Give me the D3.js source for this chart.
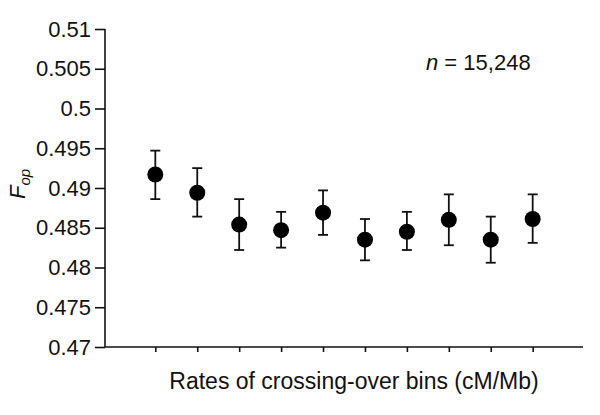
<!DOCTYPE html>
<html>
<head>
<meta charset="utf-8">
<script src="https://cdn.jsdelivr.net/npm/d3@7"></script>
<style>
  body { margin: 0; background: #fff; }
  svg { display: block; font-family: "Liberation Sans", Arial, Helvetica, sans-serif; }
</style>
</head>
<body>
<svg id="chart" width="600" height="415"></svg>
<script>
// bins along crossing-over rate (unlabelled ticks)
const bins = [0, 1, 2, 3, 4, 5, 6, 7, 8, 9];
const fop = [0.4917, 0.4894, 0.4854, 0.4847, 0.4869, 0.4835, 0.4845, 0.4860, 0.4835, 0.4861];
const errLow = [0.4886, 0.4864, 0.4822, 0.4825, 0.4841, 0.4809, 0.4822, 0.4828, 0.4806, 0.4831];
const errHigh = [0.4947, 0.4925, 0.4886, 0.4870, 0.4897, 0.4861, 0.4870, 0.4892, 0.4864, 0.4892];
const yTicks = [0.47, 0.475, 0.48, 0.485, 0.49, 0.495, 0.5, 0.505, 0.51];

const svg = d3.select('#chart');
const fs = 22;

const x = d3.scaleLinear().domain([-1.2, 10.2]).range([105, 583]);
const y = d3.scaleLinear().domain([0.47, 0.51]).range([347, 29]);

// y axis
const yAxis = svg.append('g').attr('transform', 'translate(105,0)')
  .call(d3.axisLeft(y).tickValues(yTicks).tickSize(10).tickPadding(4)
    .tickFormat(d => d3.format('')(+d.toFixed(3))));
yAxis.select('.domain').attr('d', `M0,${y(0.51)}V${y(0.47)}`);
yAxis.selectAll('line, path').attr('stroke', '#111').attr('stroke-width', 1.6);
yAxis.selectAll('text').attr('font-size', fs).attr('fill', '#111')
  .attr('font-family', null);

// x axis
const xAxis = svg.append('g').attr('transform', `translate(0,${y(0.47)})`)
  .call(d3.axisBottom(x).tickValues(bins).tickSize(5).tickFormat(''));
xAxis.select('.domain').attr('d', `M${x.range()[0]},0H${x.range()[1]}`);
xAxis.selectAll('line, path').attr('stroke', '#111').attr('stroke-width', 1.6);

// error bars
const eb = svg.append('g').selectAll('g').data(bins).join('g');
eb.append('line')
  .attr('x1', d => x(d)).attr('x2', d => x(d))
  .attr('y1', d => y(errLow[d])).attr('y2', d => y(errHigh[d]));
eb.append('line')
  .attr('x1', d => x(d) - 5).attr('x2', d => x(d) + 5)
  .attr('y1', d => y(errHigh[d])).attr('y2', d => y(errHigh[d]));
eb.append('line')
  .attr('x1', d => x(d) - 5).attr('x2', d => x(d) + 5)
  .attr('y1', d => y(errLow[d])).attr('y2', d => y(errLow[d]));
eb.selectAll('line').attr('stroke', '#111').attr('stroke-width', 1.8);

// points
svg.append('g').selectAll('circle').data(bins).join('circle')
  .attr('cx', d => x(d)).attr('cy', d => y(fop[d]))
  .attr('r', 8).attr('fill', '#000');

// y label
svg.append('text')
  .attr('transform', `translate(25,184) rotate(-90)`)
  .attr('text-anchor', 'middle').attr('font-size', fs).attr('fill', '#111')
  .html('<tspan font-style="italic">F</tspan><tspan font-style="italic" font-size="15" dy="5">op</tspan>');

// x label
svg.append('text')
  .attr('x', 354).attr('y', 389)
  .attr('text-anchor', 'middle').attr('font-size', 23).attr('fill', '#111')
  .text('Rates of crossing-over bins (cM/Mb)');

// sample size
svg.append('text')
  .attr('x', 426).attr('y', 70)
  .attr('font-size', fs).attr('fill', '#111')
  .html('<tspan font-style="italic">n</tspan> = 15,248');
</script>
</body>
</html>
